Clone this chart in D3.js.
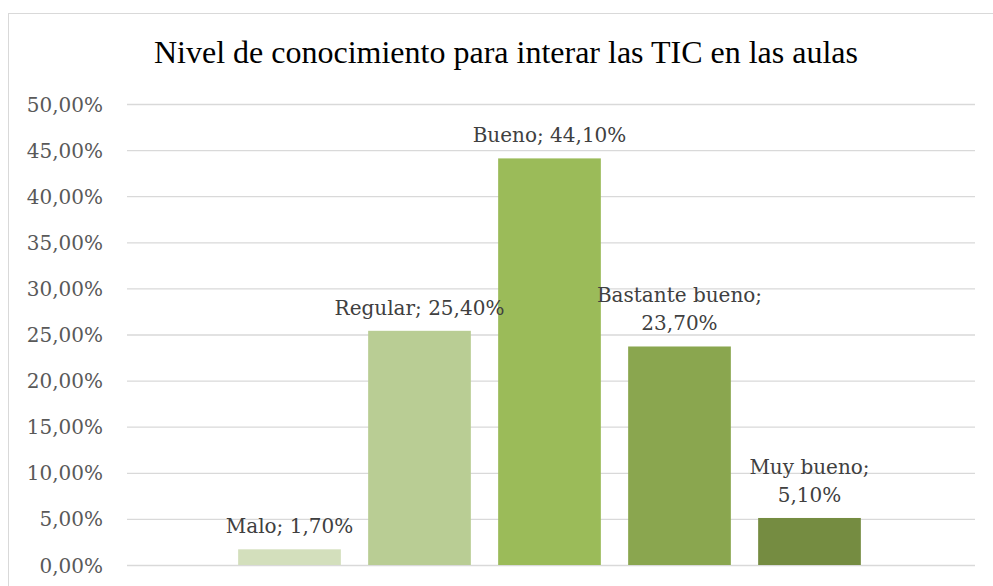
<!DOCTYPE html>
<html>
<head>
<meta charset="utf-8">
<style>
  body { margin: 0; background: #fff; }
</style>
</head>
<body>
<div id="chart"></div>
<script src="https://d3js.org/d3.v7.min.js"></script>
<script>
  // data
  var categories = ["Malo", "Regular", "Bueno", "Bastante bueno", "Muy bueno"];
  var values = [1.7, 25.4, 44.1, 23.7, 5.1];
  var barColors = ["#d3dfbc", "#b9cd94", "#9bbb59", "#8aa64f", "#758c41"];
  var yTicks = [0, 5, 10, 15, 20, 25, 30, 35, 40, 45, 50];
  // labels that wrap onto two lines in the original
  var labelLines = [
    ["Malo; 1,70%"],
    ["Regular; 25,40%"],
    ["Bueno; 44,10%"],
    ["Bastante bueno;", "23,70%"],
    ["Muy bueno;", "5,10%"]
  ];

  var width = 993;
  var height = 586;
  var labelFont = "'DejaVu Serif', serif";

  var svg = d3.select("#chart")
    .append("svg")
    .attr("width", width)
    .attr("height", height);

  // chart area border
  svg.append("rect")
    .attr("x", 8.5)
    .attr("y", 13.5)
    .attr("width", 1000)
    .attr("height", 600)
    .attr("fill", "none")
    .attr("stroke", "#d9d9d9")
    .attr("stroke-width", 1);

  var xScale = d3.scaleBand()
    .domain(categories)
    .range([224.5, 874.5])
    .paddingInner(0.21)
    .paddingOuter(0.105);

  var yScale = d3.scaleLinear()
    .domain([0, 50])
    .range([565, 104]);

  // gridlines + tick labels
  var yAxis = d3.axisLeft(yScale)
    .tickValues(yTicks)
    .tickSize(-(975 - 127))
    .tickPadding(24)
    .tickFormat(function(d) { return d.toFixed(2).replace(".", ",") + "%"; });

  var gAxis = svg.append("g")
    .attr("transform", "translate(127,0)")
    .call(yAxis);
  gAxis.select(".domain").remove();
  gAxis.selectAll(".tick line")
    .attr("stroke", "#d9d9d9")
    .attr("stroke-width", 1.3);
  gAxis.selectAll(".tick text")
    .attr("font-family", labelFont)
    .attr("font-size", "20px")
    .attr("fill", "#595959")
    .attr("dy", "0.35em");

  // bars
  svg.selectAll(".bar")
    .data(values)
    .enter()
    .append("rect")
    .attr("class", "bar")
    .attr("x", function(d, i) { return xScale(categories[i]); })
    .attr("y", function(d) { return yScale(d); })
    .attr("width", xScale.bandwidth())
    .attr("height", function(d) { return yScale(0) - yScale(d); })
    .attr("fill", function(d, i) { return barColors[i]; });

  // data labels
  values.forEach(function(v, i) {
    var lines = labelLines[i];
    var cx = xScale(categories[i]) + xScale.bandwidth() / 2;
    var base = yScale(v) - 16;
    lines.forEach(function(t, j) {
      svg.append("text")
        .attr("x", cx)
        .attr("y", base - (lines.length - 1 - j) * 28)
        .attr("text-anchor", "middle")
        .attr("font-family", labelFont)
        .attr("font-size", "20px")
        .attr("fill", "#404040")
        .text(t);
    });
  });

  // title
  svg.append("text")
    .attr("x", 506)
    .attr("y", 63)
    .attr("text-anchor", "middle")
    .attr("font-family", "'Liberation Serif', 'Times New Roman', serif")
    .attr("font-size", "32px")
    .attr("fill", "#000")
    .text("Nivel de conocimiento para interar las TIC en las aulas");
</script>
</body>
</html>
